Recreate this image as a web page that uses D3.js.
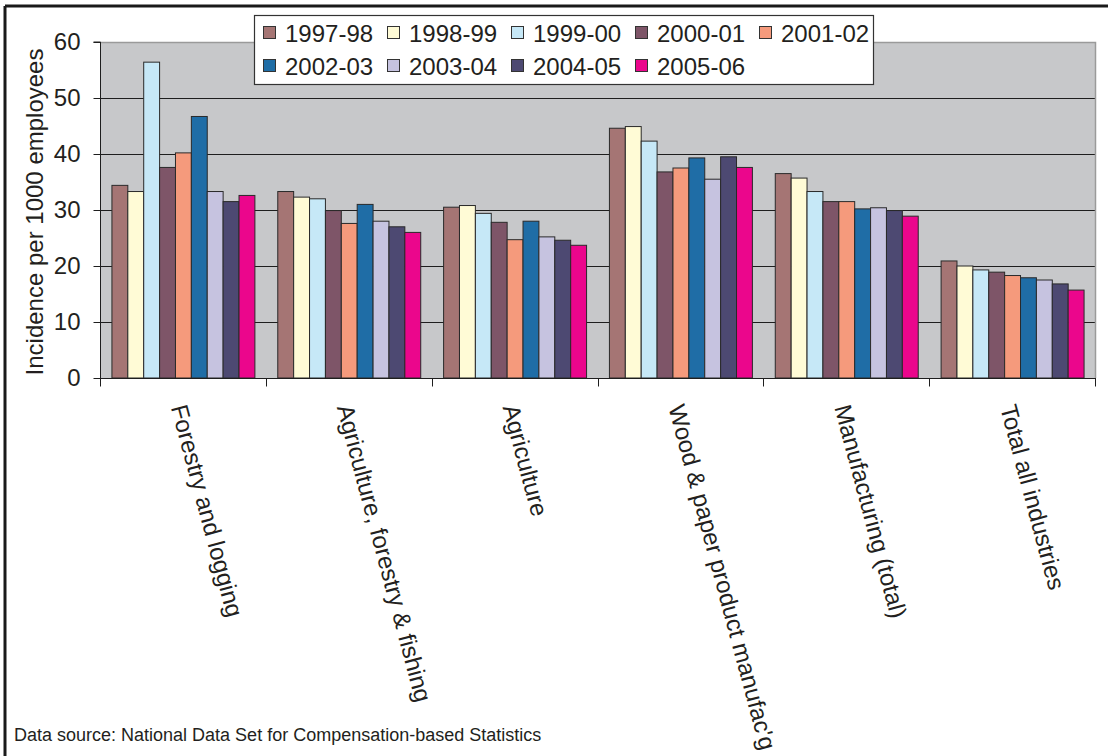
<!DOCTYPE html>
<html><head><meta charset="utf-8">
<script src="https://cdn.jsdelivr.net/npm/d3@7"></script>
<style>
html,body{margin:0;padding:0;background:#fff;}
svg{display:block;font-family:"Liberation Sans",Arial,sans-serif;}
</style></head>
<body>
<svg id="chart" width="1108" height="756"></svg>
<script>
const categories = ["Forestry and logging","Agriculture, forestry & fishing","Agriculture","Wood & paper product manufac'g","Manufacturing (total)","Total all industries"];
const seriesNames = ["1997-98","1998-99","1999-00","2000-01","2001-02","2002-03","2003-04","2004-05","2005-06"];
const seriesColors = ["#A57574","#FFFBD6","#C6E8F7","#7E5568","#F59A7C","#1F6DA6","#C6C3E0","#4D4972","#EB068C"];
const v1997 = [34.4,33.3,30.5,44.6,36.5,20.9];
const v1998 = [33.3,32.3,30.8,44.9,35.7,20.0];
const v1999 = [56.4,32.0,29.4,42.3,33.3,19.3];
const v2000 = [37.6,29.9,27.8,36.8,31.5,18.9];
const v2001 = [40.2,27.6,24.7,37.5,31.5,18.3];
const v2002 = [46.7,31.0,28.0,39.3,30.2,17.9];
const v2003 = [33.3,28.0,25.2,35.5,30.4,17.5];
const v2004 = [31.5,27.0,24.6,39.5,29.9,16.8];
const v2005 = [32.6,26.0,23.7,37.6,28.9,15.7];
const seriesValues = [v1997,v1998,v1999,v2000,v2001,v2002,v2003,v2004,v2005];
const yTicks = [0,10,20,30,40,50,60];
const yTitle = "Incidence per 1000 employees";
const sourceNote = "Data source: National Data Set for Compensation-based Statistics";

const svg = d3.select("#chart");
const L = 100, R = 1095, T = 42, B = 378;

// outer frame
svg.append("line").attr("x1",5).attr("x2",1108).attr("y1",6).attr("y2",6).attr("stroke","#1a1a1a").attr("stroke-width",3);
svg.append("line").attr("x1",5).attr("x2",5).attr("y1",6).attr("y2",756).attr("stroke","#1a1a1a").attr("stroke-width",3);

const x0 = d3.scaleBand().domain(categories).range([L,R]).padding(0);
const x1 = d3.scaleBand().domain(seriesNames).range([0,x0.bandwidth()]).paddingInner(0).paddingOuter(0.72);
const y = d3.scaleLinear().domain([0,60]).range([B,T]);

// plot background
svg.append("rect").attr("x",L).attr("y",T).attr("width",R-L).attr("height",B-T).attr("fill","#C7C8CA");
// gridlines
svg.append("g").selectAll("line").data(yTicks.filter(d=>d>0 && d<60)).join("line")
  .attr("x1",L).attr("x2",R).attr("y1",d=>Math.round(y(d))+0.5).attr("y2",d=>Math.round(y(d))+0.5)
  .attr("stroke","#1e1e1e").attr("stroke-width",1);
// plot border top/right
svg.append("path").attr("d",`M${L},${T+0.5}H${R+0.5}V${B}`).attr("fill","none").attr("stroke","#9a9a9a").attr("stroke-width",1.5);

// bars
const groups = svg.append("g").selectAll("g").data(categories).join("g")
  .attr("transform",d=>`translate(${x0(d)},0)`);
groups.selectAll("rect").data((c,ci)=>seriesNames.map((s,si)=>({s,si,v:seriesValues[si][ci]}))).join("rect")
  .attr("x",d=>x1(d.s)+0.5).attr("width",x1.bandwidth())
  .attr("y",d=>y(d.v)).attr("height",d=>y(0)-y(d.v))
  .attr("fill",d=>seriesColors[d.si]).attr("stroke","#2a2a2a").attr("stroke-width",1);

// y axis
const yAxis = d3.axisLeft(y).tickValues(yTicks).tickSize(7).tickPadding(13);
const ya = svg.append("g").attr("transform",`translate(${L+0.5},0)`).call(yAxis);
ya.select(".domain").attr("stroke","#1e1e1e").attr("d",`M-7,${T}H0V${B}`);
ya.selectAll(".tick line").attr("stroke","#1e1e1e");
ya.selectAll("text").attr("font-size",24).attr("fill","#231f20").attr("font-family","Liberation Sans, Arial, sans-serif");

// x axis
const xa = svg.append("g").attr("transform",`translate(0,${B+0.5})`);
xa.append("line").attr("x1",L).attr("x2",R+1).attr("stroke","#1e1e1e");
const bounds = categories.map(c=>x0(c)).concat([R]);
xa.selectAll("line.tk").data(bounds).join("line").attr("class","tk")
  .attr("x1",d=>Math.round(d)+0.5).attr("x2",d=>Math.round(d)+0.5).attr("y1",0).attr("y2",8).attr("stroke","#1e1e1e");
svg.append("g").selectAll("text").data(categories).join("text")
  .attr("transform",d=>`translate(${x0(d)+x0.bandwidth()/2-4},${B+27}) rotate(75)`)
  .attr("dy","0.35em").attr("text-anchor","start")
  .attr("font-size",24).attr("fill","#231f20").text(d=>d);

// y title
svg.append("text").attr("transform",`translate(35,${(T+B)/2+2}) rotate(-90)`)
  .attr("text-anchor","middle").attr("font-size",24).attr("fill","#231f20").attr("dy","0.35em").text(yTitle);

// legend
const lg = svg.append("g");
lg.append("rect").attr("x",254.5).attr("y",15.5).attr("width",619).attr("height",69).attr("fill","#fff").attr("stroke","#333").attr("stroke-width",1.2);
const colX = [263,387,511,635,759], rowY = [33,66];
const items = lg.selectAll("g").data(seriesNames).join("g")
  .attr("transform",(d,i)=>`translate(${colX[i%5]},${rowY[Math.floor(i/5)]})`);
items.append("rect").attr("x",0.5).attr("y",-6.5).attr("width",12).attr("height",12)
  .attr("fill",(d,i)=>seriesColors[i]).attr("stroke","#333").attr("stroke-width",1);
items.append("text").attr("x",22).attr("dy","0.36em").attr("font-size",24).attr("fill","#231f20").text(d=>d);

// source note
svg.append("text").attr("x",14).attr("y",741).attr("font-size",18).attr("fill","#231f20").text(sourceNote);
</script>
</body></html>
